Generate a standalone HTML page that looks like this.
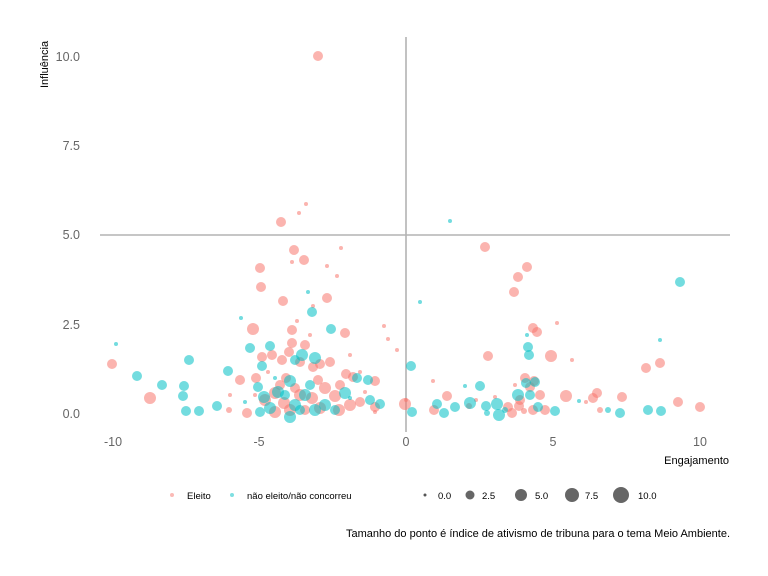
<!DOCTYPE html>
<html><head><meta charset="utf-8"><style>
body{margin:0;background:#fff;}
svg{display:block;font-family:"Liberation Sans",Arial,sans-serif;}
</style></head><body>
<svg width="768" height="576" viewBox="0 0 768 576">
<line x1="406" y1="37" x2="406" y2="432" stroke="#b3b3b3" stroke-width="1.6"/>
<line x1="100" y1="235" x2="730" y2="235" stroke="#b3b3b3" stroke-width="1.6"/>
<g font-size="12.5" fill="#666" text-anchor="end">
<text x="80" y="61">10.0</text><text x="80" y="150">7.5</text><text x="80" y="239">5.0</text><text x="80" y="329">2.5</text><text x="80" y="418">0.0</text>
</g>
<g font-size="12.5" fill="#666" text-anchor="middle">
<text x="113" y="446">-10</text><text x="259" y="446">-5</text><text x="406" y="446">0</text><text x="553" y="446">5</text><text x="700" y="446">10</text>
</g>
<text x="729" y="464" font-size="11" text-anchor="end" fill="#000">Engajamento</text>
<text transform="translate(48,88) rotate(-90)" font-size="11" fill="#000">Influência</text>
<g id="pts"></g>
<g font-size="9.5" fill="#000">
<circle cx="172" cy="495" r="2" fill="#F8766D" fill-opacity="0.5"/><text x="187" y="499">Eleito</text>
<circle cx="232" cy="495" r="2" fill="#00BFC4" fill-opacity="0.5"/><text x="247" y="499">não eleito/não concorreu</text>
<circle cx="425" cy="495" r="1.5" fill="#555"/><text x="438" y="499">0.0</text>
<circle cx="470" cy="495" r="4.5" fill="#666"/><text x="482" y="499">2.5</text>
<circle cx="521" cy="495" r="6" fill="#666"/><text x="535" y="499">5.0</text>
<circle cx="572" cy="495" r="7" fill="#666"/><text x="585" y="499">7.5</text>
<circle cx="621" cy="495" r="8" fill="#666"/><text x="638" y="499">10.0</text>
</g>
<text x="730" y="537" font-size="11" text-anchor="end" fill="#000">Tamanho do ponto é índice de ativismo de tribuna para o tema Meio Ambiente.</text>
</svg>
<script>
var R=[[318,56,5],[281,222,5],[299,213,2],[306,204,2],[294,250,5],[304,260,5],[292,262,2],[260,268,5],[327,266,2],[337,276,2],[261,287,5],[283,301,5],[327,298,5],[341,248,2],[253,329,6],[292,330,5],[297,321,2],[313,306,2],[345,333,5],[310,335,2],[262,357,5],[272,355,5],[292,343,5],[289,352,5],[300,362,5],[313,367,5],[320,364,5],[330,362,5],[346,374,5],[353,377,5],[375,381,5],[286,378,5],[256,378,5],[240,380,5],[247,413,5],[265,400,6],[275,393,6],[284,403,6],[300,395,6],[312,398,6],[325,388,6],[335,396,6],[350,405,6],[275,412,6],[290,410,6],[305,410,5],[320,408,6],[339,410,6],[360,402,5],[375,407,5],[112,364,5],[150,398,6],[229,410,3],[384,326,2],[388,339,2],[397,350,2],[360,372,2],[405,404,6],[406,400,2],[375,412,2],[485,247,5],[518,277,5],[527,267,5],[514,292,5],[533,328,5],[537,332,5],[488,356,5],[551,356,6],[525,378,5],[530,387,5],[534,381,5],[519,406,5],[533,410,5],[545,410,5],[566,396,6],[597,393,5],[593,398,5],[622,397,5],[646,368,5],[660,363,5],[678,402,5],[700,407,5],[447,396,5],[434,410,5],[476,400,2],[495,397,2],[508,407,5],[512,413,5],[433,381,2],[557,323,2],[600,410,3],[469,406,3],[524,411,3],[586,402,2],[572,360,2],[280,385,5],[295,388,5],[318,380,5],[340,385,5],[282,360,5],[305,345,5],[268,372,2],[350,355,2],[365,392,2],[255,395,2],[230,395,2],[520,400,5],[540,395,5],[515,385,2]];
var C=[[116,344,2],[137,376,5],[162,385,5],[184,386,5],[189,360,5],[183,396,5],[186,411,5],[199,411,5],[217,406,5],[228,371,5],[241,318,2],[250,348,5],[262,366,5],[270,346,5],[258,387,5],[264,397,6],[278,392,6],[290,381,6],[295,360,5],[302,355,6],[312,312,5],[331,329,5],[315,358,6],[295,405,6],[305,395,6],[315,410,6],[325,405,6],[345,393,6],[357,378,5],[368,380,5],[370,400,5],[380,404,5],[260,412,5],[290,417,6],[270,408,6],[245,402,2],[308,292,2],[450,221,2],[420,302,2],[411,366,5],[412,412,5],[437,404,5],[444,413,5],[455,407,5],[470,403,6],[480,386,5],[486,406,5],[497,404,6],[499,415,6],[518,395,6],[526,383,5],[529,355,5],[528,347,5],[527,335,2],[535,382,5],[538,407,5],[555,411,5],[579,401,2],[608,410,3],[620,413,5],[648,410,5],[661,411,5],[660,340,2],[680,282,5],[465,386,2],[487,413,3],[285,395,5],[300,410,5],[335,410,5],[310,385,5],[275,378,2],[350,398,2],[530,395,5],[505,410,3]];
var g=document.getElementById('pts'),s='';
R.forEach(function(p){s+='<circle cx="'+p[0]+'" cy="'+p[1]+'" r="'+p[2]+'" fill="#F8766D" fill-opacity="0.55"/>';});
C.forEach(function(p){s+='<circle cx="'+p[0]+'" cy="'+p[1]+'" r="'+p[2]+'" fill="#00BFC4" fill-opacity="0.55"/>';});
g.innerHTML=s;
</script>
</body></html>
